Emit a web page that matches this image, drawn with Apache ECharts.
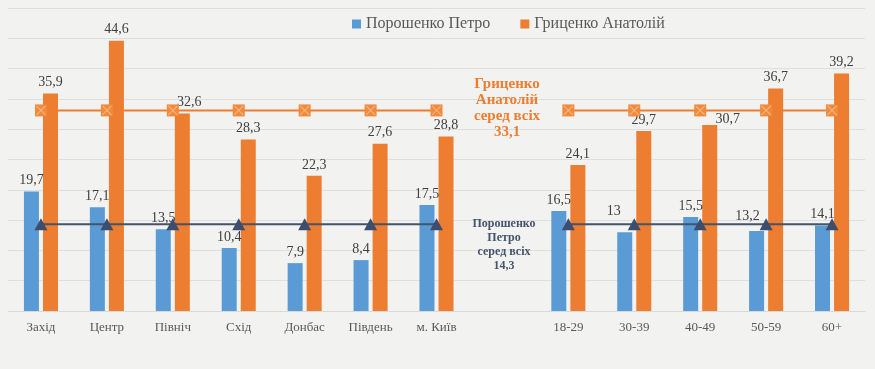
<!DOCTYPE html>
<html><head><meta charset="utf-8">
<script src="https://cdn.jsdelivr.net/npm/echarts@6/dist/echarts.min.js"></script>
<style>html,body{margin:0;padding:0;background:#f2f2f0;}#c{width:875px;height:369px;}</style>
</head><body><div id="c"></div>
<script>
var categories = ['Захід','Центр','Північ','Схід','Донбас','Південь','м. Київ','','18-29','30-39','40-49','50-59','60+'];
var poroshenko = [19.7,17.1,13.5,10.4,7.9,8.4,17.5,null,16.5,13,15.5,13.2,14.1];
var grytsenko = [35.9,44.6,32.6,28.3,22.3,27.6,28.8,null,24.1,29.7,30.7,36.7,39.2];
var poroshenkoAll = [14.3,14.3,14.3,14.3,14.3,14.3,14.3,null,14.3,14.3,14.3,14.3,14.3];
var grytsenkoAll = [33.1,33.1,33.1,33.1,33.1,33.1,33.1,null,33.1,33.1,33.1,33.1,33.1];
var yTicks = [0,5,10,15,20,25,30,35,40,45,50];

// label placement tweaks (styling only), keyed by category index
var pLabelShift = {9:[-11,-10], 11:[-9,-4]};
var gLabelShift = {2:[7,0], 10:[18,5]};

var FONT = 'Liberation Serif';
function fmt(p){ return p.value == null ? '' : String(p.value).replace('.', ','); }
var lbl = {show:true, position:'top', distance:4, color:'#404040', fontFamily:FONT, fontSize:14, formatter:fmt};
function withShift(vals, shifts){
  return vals.map(function(v, i){
    if (shifts[i]) return {value:v, label:{offset:shifts[i]}};
    return v;
  });
}
var chart = echarts.init(document.getElementById('c'));
chart.setOption({
  backgroundColor:'#f2f2f0',
  animation:false,
  legend:{data:['Порошенко Петро','Гриценко Анатолій'], top:11, left:347, icon:'rect', itemWidth:9, itemHeight:9, itemGap:30,
    textStyle:{fontFamily:FONT, fontSize:16, color:'#595959'}},
  grid:{left:8, right:10, top:8, bottom:58},
  xAxis:{type:'category', data:categories,
    axisLine:{lineStyle:{color:'#d9d9d9', width:1}}, axisTick:{show:false},
    axisLabel:{color:'#595959', fontFamily:FONT, fontSize:13, margin:10, interval:0}},
  yAxis:{type:'value', min:yTicks[0], max:yTicks[yTicks.length-1], interval:5, axisLabel:{show:false},
    axisLine:{show:false}, axisTick:{show:false},
    splitLine:{lineStyle:{color:'#dedede', width:1}}},
  series:[
    {name:'Порошенко Петро', type:'bar', data:withShift(poroshenko, pLabelShift), barWidth:15, barGap:'27%', itemStyle:{color:'#5b9bd5'}, label:lbl, z:2},
    {name:'Гриценко Анатолій', type:'bar', data:withShift(grytsenko, gLabelShift), barWidth:15, barGap:'27%', itemStyle:{color:'#ed7d31'}, label:lbl, z:2},
    {name:'avgG', type:'line', data:grytsenkoAll, connectNulls:false, symbol:'rect', symbolSize:12,
      lineStyle:{color:'#ed7d31', width:2}, itemStyle:{color:'#f08a3c'}, z:5},
    {name:'avgGx', type:'line', data:grytsenkoAll, connectNulls:false, symbol:'path://M0,0L10,10M10,0L0,10', symbolSize:9,
      lineStyle:{opacity:0}, itemStyle:{color:'none', borderColor:'#f7b27c', borderWidth:1.3}, z:6},
    {name:'avgP', type:'line', data:poroshenkoAll, connectNulls:false, symbol:'triangle', symbolSize:[13,12],
      lineStyle:{color:'#44546a', width:2}, itemStyle:{color:'#3c4d6e'}, z:5}
  ],
  graphic:[
    {type:'text', x:507, y:76, z:10, style:{text:'Гриценко\nАнатолій\nсеред всіх\n33,1', textAlign:'center', align:'center',
      verticalAlign:'top', textVerticalAlign:'top',
      fill:'#ed7d31', fontFamily:FONT, fontWeight:'bold', fontSize:15, lineHeight:16}},
    {type:'text', x:504, y:217, z:10, style:{text:'Порошенко\nПетро\nсеред всіх\n14,3', textAlign:'center', align:'center',
      verticalAlign:'top', textVerticalAlign:'top',
      fill:'#44546a', fontFamily:FONT, fontWeight:'bold', fontSize:12, lineHeight:14}}
  ]
});
</script></body></html>
